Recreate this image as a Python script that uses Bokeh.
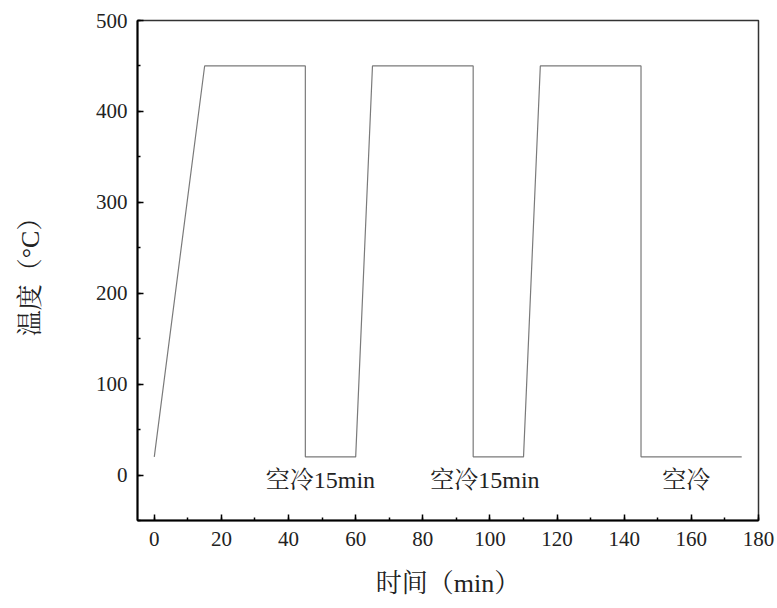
from bokeh.plotting import figure
from bokeh.models import Range1d, SingleIntervalTicker, Label
from bokeh.embed import file_html
from bokeh.resources import INLINE

# data: heat treatment schedule
time_min = [0, 15, 45, 45, 60, 65, 95, 95, 110, 115, 145, 145, 175]
temp_c = [20, 450, 450, 20, 20, 450, 450, 20, 20, 450, 450, 20, 20]

notes = ["空冷15min", "空冷15min", "空冷"]
note_x = [49.5, 98.5, 158.5]
note_y = [-5, -5, -5]

FONT = "'Liberation Serif', 'Noto Serif CJK SC', 'Noto Sans CJK SC', serif"

p = figure(width=775, height=600, output_backend="svg", toolbar_location=None,
           x_range=Range1d(-5, 180), y_range=Range1d(-50, 500),
           min_border_left=137, min_border_right=17, min_border_top=20,
           min_border_bottom=77)
p.background_fill_color = "white"
p.border_fill_color = "white"
p.grid.visible = False
p.outline_line_color = "#333333"
p.outline_line_width = 1.5

p.line(time_min, temp_c, line_color="#7a7a7a", line_width=1.2)

for t, x, y in zip(notes, note_x, note_y):
    p.add_layout(Label(x=x, y=y, text=t, text_align="center", text_baseline="middle",
                       text_font=FONT, text_font_size="24px", text_color="#222222"))

p.xaxis.ticker = SingleIntervalTicker(interval=20, num_minor_ticks=2)
p.yaxis.ticker = SingleIntervalTicker(interval=100, num_minor_ticks=2)

for ax in (p.xaxis[0], p.yaxis[0]):
    ax.axis_line_color = "black"
    ax.axis_line_width = 2
    ax.major_tick_in = 6
    ax.major_tick_out = 0
    ax.minor_tick_in = 3
    ax.minor_tick_out = 0
    ax.major_tick_line_color = "black"
    ax.minor_tick_line_color = "black"
    ax.major_tick_line_width = 1.5
    ax.minor_tick_line_width = 1.5
    ax.major_label_text_font = FONT
    ax.major_label_text_font_size = "21px"
    ax.major_label_text_color = "#222222"
    ax.axis_label_text_font = FONT
    ax.axis_label_text_font_size = "26px"
    ax.axis_label_text_font_style = "normal"
    ax.axis_label_text_color = "#222222"

p.xaxis.axis_label = "时间（min）"
p.yaxis.axis_label = "温度（°C）"
p.xaxis.major_label_standoff = 11
p.yaxis.major_label_standoff = 10
p.xaxis.axis_label_standoff = 20
p.yaxis.axis_label_standoff = 48

open("out.html", "w").write(file_html(p, INLINE))
